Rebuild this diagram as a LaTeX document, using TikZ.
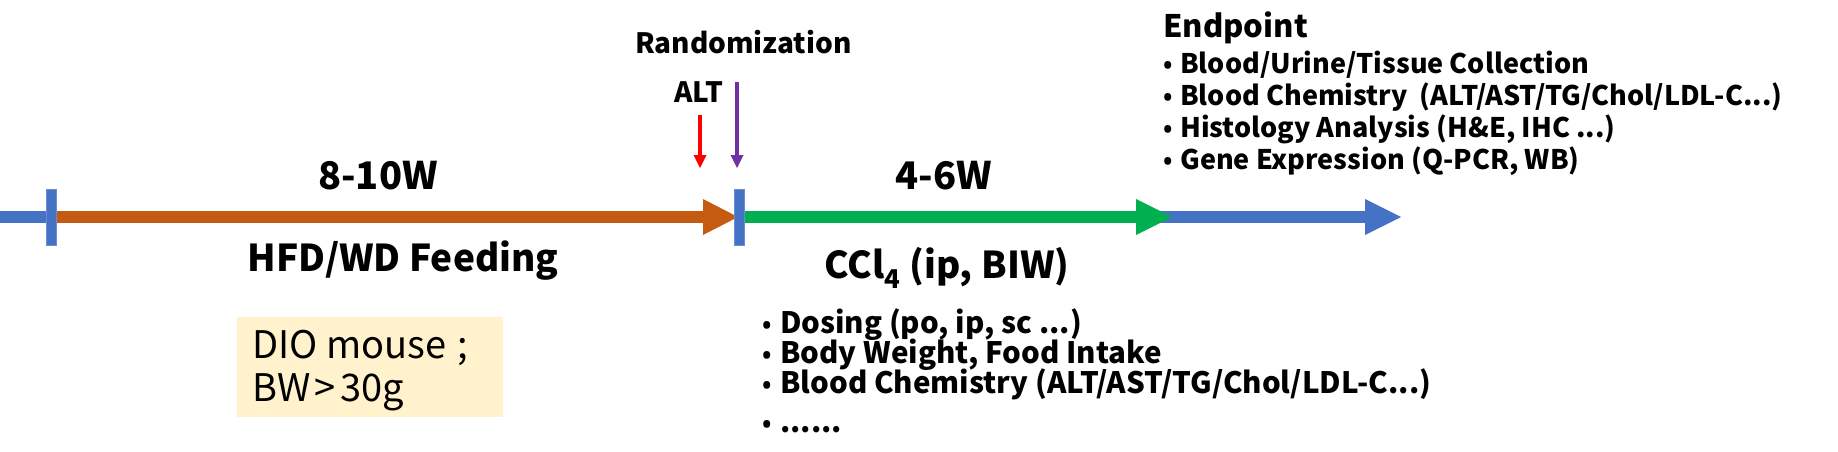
\documentclass[tikz,border=0pt]{standalone}
\usepackage{fontspec}
\setmainfont{Noto Sans CJK SC}
\newfontfamily\bulfont{Open Sans}
\definecolor{tlblue}{HTML}{4472C4}
\definecolor{tlorange}{HTML}{C55A11}
\definecolor{tlgreen}{HTML}{00B050}
\definecolor{tlred}{HTML}{FF0000}
\definecolor{tlpurple}{HTML}{7030A0}
\definecolor{boxfill}{HTML}{FFF2CC}
\newcommand{\fs}[1]{\fontsize{#1}{#1}\selectfont}
\newcommand{\bulA}{\makebox[17pt][l]{\bulfont\bfseries\fs{25}\raisebox{-1.5pt}{•}}}
\newcommand{\bulB}{\makebox[18pt][l]{\bulfont\bfseries\fs{25}\raisebox{-1.5pt}{•}}}
\begin{document}
\begin{tikzpicture}[x=1pt,y=-1pt,
  shaft/.style={line width=12pt},
  tick/.style={fill=tlblue,draw=tlblue!80!white,line width=0.8pt},
  thin/.style={line width=3.5pt},
  lbl/.style={inner sep=0pt,anchor=base,font=\bfseries\fs{38}},
  sub/.style={inner sep=0pt,anchor=base,font=\bfseries\fs{37}},
  bulE/.style={inner sep=0pt,anchor=base west,font=\bfseries\fs{27}},
  bulD/.style={inner sep=0pt,anchor=base west,font=\bfseries\fs{29.5}},
  boxtxt/.style={inner sep=0pt,anchor=base west,font=\fs{38}}]
\useasboundingbox (0,0) rectangle (1838,451);
% coordinates
\coordinate (s0) at (0,217);
\coordinate (t1) at (51.5,217);
\coordinate (ob) at (703,217);
\coordinate (ot) at (738,217);
\coordinate (t2) at (739,217);
\coordinate (gb) at (1136,217);
\coordinate (gt) at (1172,217);
\coordinate (bb) at (1365,217);
\coordinate (bt) at (1401,217);
% left blue segment
\draw[shaft,tlblue] (s0) -- (t1);
% right blue arrow
\draw[shaft,tlblue] (gb) -- ([xshift=1pt]bb);
\fill[tlblue] ([yshift=18pt]bb) -- (bt) -- ([yshift=-18pt]bb) -- cycle;
% orange arrow
\draw[shaft,tlorange] (t1) -- ([xshift=1pt]ob);
\fill[tlorange] ([yshift=18pt]ob) -- (ot) -- ([yshift=-18pt]ob) -- cycle;
% green arrow
\draw[shaft,tlgreen] (t2) -- ([xshift=1pt]gb);
\fill[tlgreen] ([yshift=18pt]gb) -- (gt) -- ([yshift=-18pt]gb) -- cycle;
% ticks
\node (tick1) [tick,inner sep=0pt,minimum width=10pt,minimum height=56pt] at (t1) {};
\node (tick2) [tick,inner sep=0pt,minimum width=10pt,minimum height=56pt] at (t2) {};
% small arrows
\coordinate (rtop) at (700,115);
\coordinate (rbase) at (700,155);
\coordinate (rtip) at (700,168);
\draw[thin,tlred] (rtop) -- (rbase);
\fill[tlred] ([xshift=-6.5pt]rbase) -- (rtip) -- ([xshift=6.5pt]rbase) -- cycle;
\coordinate (ptop) at (737,82);
\coordinate (pbase) at (737,155);
\coordinate (ptip) at (737,168);
\draw[thin,tlpurple] (ptop) -- (pbase);
\fill[tlpurple] ([xshift=-6.5pt]pbase) -- (ptip) -- ([xshift=6.5pt]pbase) -- cycle;
% labels
\node (w1) [lbl] at (378,189) {8-10W};
\node (hfd) [sub] at (403,271) {HFD/WD Feeding};
\node (w2) [lbl] at (944,189) {4-6W};
\node (ccl) [sub] at (947,278) {CCl\textsubscript{4} (ip, BIW)};
\node (alt) [inner sep=0pt,anchor=base,font=\bfseries\fs{28}] at (699,102) {ALT};
\node (rand) [inner sep=0pt,anchor=base west,font=\bfseries\fs{28}] at (635,53) {Randomization};
% endpoint
\node (ep) [inner sep=0pt,anchor=base west,font=\bfseries\fs{31}] at (1163,37) {Endpoint};
\node (e1) [bulE] at (1163,73) {\bulA Blood/Urine/Tissue Collection};
\node (e2) [bulE] at (1163,105) {\bulA Blood Chemistry\ \ (ALT/AST/TG/Chol/LDL-C...)};
\node (e3) [bulE] at (1163,137) {\bulA Histology Analysis (H\&E, IHC ...)};
\node (e4) [bulE] at (1163,169) {\bulA Gene Expression (Q-PCR, WB)};
% bottom bullets
\node (d1) [bulD] at (762,333) {\bulB Dosing (po, ip, sc ...)};
\node (d2) [bulD] at (762,363) {\bulB Body Weight, Food Intake};
\node (d3) [bulD] at (762,393) {\bulB Blood Chemistry (ALT/AST/TG/Chol/LDL-C...)};
\node (d4) [bulD] at (762,432) {\bulB ......};
% box
\node (box) [fill=boxfill,inner sep=0pt,minimum width=266pt,minimum height=100pt] at (370,367) {};
\node (b1) [boxtxt] at (252,358) {DIO mouse\hspace{0.3em};};
\node (b2) [boxtxt] at (252,401) {BW\hspace{0.12em}>\hspace{0.12em}30g};
\end{tikzpicture}
\end{document}
